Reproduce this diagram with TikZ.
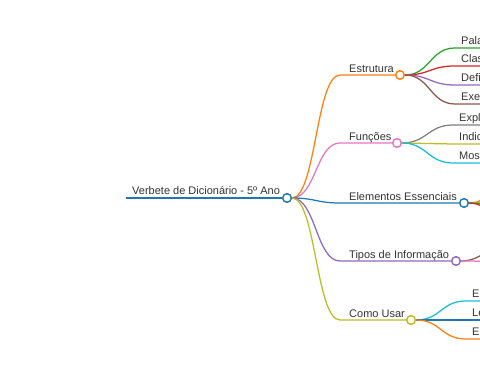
\documentclass[tikz,border=0pt]{standalone}
\usepackage{fontspec}
\setmainfont{Liberation Sans}
\definecolor{cOrange}{HTML}{FF7F0E}
\definecolor{cPink}{HTML}{E377C2}
\definecolor{cBlue}{HTML}{1F77B4}
\definecolor{cPurple}{HTML}{9467BD}
\definecolor{cOlive}{HTML}{BCBD22}
\definecolor{cGreen}{HTML}{2CA02C}
\definecolor{cRed}{HTML}{D62728}
\definecolor{cBrown}{HTML}{8C564B}
\definecolor{cGray}{HTML}{7F7F7F}
\definecolor{cCyan}{HTML}{17BECF}
\definecolor{txt}{HTML}{333333}
\begin{document}
\begin{tikzpicture}[x=1pt,y=-1pt,
  lbl/.style={anchor=base west,inner sep=0pt,text=txt,font=\fontsize{11}{13}\selectfont},
  dot/.style={circle,draw=#1,fill=white,line width=1.3pt,minimum size=8.5pt,inner sep=0pt},
  link/.style={line width=1.25pt,#1}]
\useasboundingbox (0,0) rectangle (480,379);
\clip (0,0) rectangle (480,379);
% root
\coordinate (rs) at (126,198);
\node[dot=cBlue] (root) at (287,198) {};
\node[lbl] (troot) at (132,194.5) {Verbete de Dicionário - 5º Ano};
\draw[link=cBlue,line width=1.6pt] (rs) -- (root.west);
% level 1
\node[dot=cOrange] (est) at (400,75) {};
\node[dot=cPink] (fun) at (397,143) {};
\node[dot=cBlue] (ele) at (464,203) {};
\node[dot=cPurple] (tip) at (456,261) {};
\node[dot=cOlive] (com) at (411,320) {};
\node[lbl] (test) at (349,72.5) {Estrutura};
\node[lbl] (tfun) at (349,140.5) {Funções};
\node[lbl] (tele) at (349,200.5) {Elementos Essenciais};
\node[lbl] (ttip) at (349,258.5) {Tipos de Informação};
\node[lbl] (tcom) at (349,317.5) {Como Usar};
\coordinate (kest) at (340,75);
\coordinate (kfun) at (340,143);
\coordinate (kele) at (340,203);
\coordinate (ktip) at (340,261);
\coordinate (kcom) at (340,320);
\draw[link=cOrange] (root.east) .. controls +(24,0) and +(-24,0) .. (kest) -- (est.west);
\draw[link=cPink] (root.east) .. controls +(24,0) and +(-24,0) .. (kfun) -- (fun.west);
\draw[link=cBlue] (root.east) .. controls +(24,0) and +(-24,0) .. (kele) -- (ele.west);
\draw[link=cPurple] (root.east) .. controls +(24,0) and +(-24,0) .. (ktip) -- (tip.west);
\draw[link=cOlive] (root.east) .. controls +(24,0) and +(-24,0) .. (kcom) -- (com.west);
% Estrutura children
\coordinate (a1) at (455,48);  \coordinate (a1e) at (560,48);
\coordinate (a2) at (455,66);  \coordinate (a2e) at (560,66);
\coordinate (a3) at (455,85);  \coordinate (a3e) at (560,85);
\coordinate (a4) at (455,104); \coordinate (a4e) at (560,104);
\draw[link=cGreen] (est.east) .. controls +(25,0) and +(-25,0) .. (a1) -- (a1e);
\draw[link=cRed] (est.east) .. controls +(25,0) and +(-25,0) .. (a2) -- (a2e);
\draw[link=cPurple] (est.east) .. controls +(25,0) and +(-25,0) .. (a3) -- (a3e);
\draw[link=cBrown] (est.east) .. controls +(25,0) and +(-25,0) .. (a4) -- (a4e);
\node[lbl] (ta1) at (461,45) {Palavra};
\node[lbl] (ta2) at (461,63) {Classe};
\node[lbl] (ta3) at (461,82) {Definição};
\node[lbl] (ta4) at (461,101) {Exemplos};
% Funções children
\coordinate (b1) at (453,125); \coordinate (b1e) at (560,125);
\coordinate (b2) at (453,144); \coordinate (b2e) at (560,144);
\coordinate (b3) at (453,163); \coordinate (b3e) at (560,163);
\draw[link=cGray] (fun.east) .. controls +(25,0) and +(-25,0) .. (b1) -- (b1e);
\draw[link=cOlive] (fun.east) .. controls +(25,0) and +(-25,0) .. (b2) -- (b2e);
\draw[link=cCyan] (fun.east) .. controls +(25,0) and +(-25,0) .. (b3) -- (b3e);
\node[lbl] (tb1) at (459,122) {Explicar};
\node[lbl] (tb2) at (459,141) {Indicar};
\node[lbl] (tb3) at (459,160) {Mostrar};
% Elementos Essenciais children (stubs)
\coordinate (c1) at (520,175);
\coordinate (c2) at (520,195);
\coordinate (c3) at (520,212);
\coordinate (c4) at (520,232);
\draw[link=cOrange] (ele.east) .. controls +(25,0) and +(-25,0) .. (c1);
\draw[link=cOlive] (ele.east) .. controls +(25,0) and +(-25,0) .. (c2);
\draw[link=cGreen] (ele.east) .. controls +(25,0) and +(-25,0) .. (c3);
\draw[link=cRed] (ele.east) .. controls +(25,0) and +(-25,0) .. (c4);
% Tipos de Informação children (stubs)
\coordinate (d1) at (515,240);
\coordinate (d2) at (515,262);
\draw[link=cBrown] (tip.east) .. controls +(25,0) and +(-25,0) .. (d1);
\draw[link=cPink] (tip.east) .. controls +(25,0) and +(-25,0) .. (d2);
% Como Usar children
\coordinate (e1) at (466,301); \coordinate (e1e) at (560,301);
\coordinate (e2) at (466,320); \coordinate (e2e) at (560,320);
\coordinate (e3) at (466,339); \coordinate (e3e) at (560,339);
\draw[link=cCyan] (com.east) .. controls +(25,0) and +(-25,0) .. (e1) -- (e1e);
\draw[link=cBlue] (com.east) .. controls +(25,0) and +(-25,0) .. (e2) -- (e2e);
\draw[link=cOrange] (com.east) .. controls +(25,0) and +(-25,0) .. (e3) -- (e3e);
\node[lbl] (te1) at (472,298) {Encontrar};
\node[lbl] (te2) at (472,317) {Ler};
\node[lbl] (te3) at (472,336) {Entender};
% redraw dots on top
\node[dot=cBlue] at (root) {};
\node[dot=cOrange] at (est) {};
\node[dot=cPink] at (fun) {};
\node[dot=cBlue] at (ele) {};
\node[dot=cPurple] at (tip) {};
\node[dot=cOlive] at (com) {};
\end{tikzpicture}
\end{document}
